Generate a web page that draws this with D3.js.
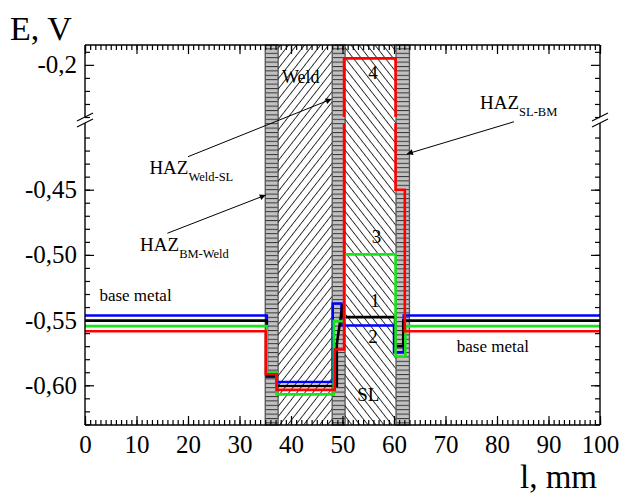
<!DOCTYPE html>
<html>
<head>
<meta charset="utf-8">
<script src="https://cdn.jsdelivr.net/npm/d3@7/dist/d3.min.js"></script>
<style>
body { margin: 0; background: #fff; }
svg { display: block; font-family: 'Liberation Serif', 'Times New Roman', serif; }
</style>
</head>
<body>
<div id="chart"></div>
<script>
const width = 621;
const height = 499;
const plotLeft = 85, plotRight = 600, plotTop = 45, plotBottom = 425;

// zones along the joint, mm
const zoneNames = ['HAZ', 'Weld', 'HAZ', 'SL', 'HAZ'];
const zoneFrom = [35, 37.5, 48, 50.5, 60.4];
const zoneTo = [37.5, 48, 50.5, 60.4, 63];

// potential profiles [l mm, E V]
const curve1 = [[0, -0.5504], [35.3, -0.5504], [35.3, -0.5925], [37.2, -0.5925], [37.2, -0.6005],
    [48.9, -0.6005], [48.9, -0.5682], [50.0, -0.5387], [50.2, -0.5387], [50.2, -0.5477],
    [60.2, -0.5477], [60.2, -0.570], [61.8, -0.570], [61.8, -0.5504], [100, -0.5504]];
const curve2 = [[0, -0.5465], [35.3, -0.5465], [35.3, -0.5935], [37.2, -0.5935], [37.2, -0.5975],
    [48.1, -0.5975], [48.1, -0.5373], [49.8, -0.5373], [49.8, -0.5541], [60.0, -0.5541],
    [60.0, -0.5748], [61.9, -0.5748], [61.9, -0.5465], [100, -0.5465]];
const curve3 = [[0, -0.5546], [35.3, -0.5546], [35.3, -0.590], [37.2, -0.590], [37.2, -0.607],
    [48.3, -0.607], [48.3, -0.5508], [50.4, -0.5508], [50.4, -0.4996], [60.3, -0.4996],
    [60.3, -0.5779], [62.2, -0.5779], [62.2, -0.5546], [100, -0.5546]];
const curve4 = [[0, -0.5586], [35.1, -0.5586], [35.1, -0.5915], [37.2, -0.5915], [37.2, -0.6035],
    [48.5, -0.6035], [48.5, -0.5725], [50.3, -0.5725], [50.3, -0.195], [60.3, -0.195],
    [60.3, -0.45], [62.1, -0.45], [62.1, -0.5586], [100, -0.5586]];

const xMajor = d3.range(0, 101, 10);
const xMinor = d3.range(0, 101, 1);
const yLowMajor = [-0.60, -0.55, -0.50, -0.45];
const yLowMinor = d3.range(-63, -40).map(d => d / 100);
const yHighMajor = [-0.2];
const yHighMinor = [-0.24, -0.23, -0.22, -0.21, -0.19];

const curves = [
    { data: curve2, color: '#0000ff' },
    { data: curve1, color: '#000000' },
    { data: curve3, color: '#18e418' },
    { data: curve4, color: '#ff0000' }
];

const svg = d3.select('#chart').append('svg')
    .attr('width', width)
    .attr('height', height);

const x = d3.scaleLinear().domain([0, 100]).range([plotLeft, plotRight]);
const yLow = d3.scaleLinear().domain([-0.63, -0.40]).range([424.4, 124.5]);
const yHigh = d3.scaleLinear().domain([-0.24, -0.185]).range([117, 45.3]);
const Y = v => v > -0.32 ? yHigh(v) : yLow(v);

const defs = svg.append('defs');
function hatch (id, angle, gap) {
    const p = defs.append('pattern')
        .attr('id', id)
        .attr('patternUnits', 'userSpaceOnUse')
        .attr('width', 10)
        .attr('height', gap)
        .attr('patternTransform', `rotate(${angle})`);
    p.append('line')
        .attr('x1', 0).attr('x2', 10)
        .attr('y1', gap / 2).attr('y2', gap / 2)
        .attr('stroke', '#000')
        .attr('stroke-width', 0.8);
}
hatch('weld', -52, 6.3);
hatch('sl', 52, 6.3);

const brick = defs.append('pattern')
    .attr('id', 'haz')
    .attr('patternUnits', 'userSpaceOnUse')
    .attr('width', 20)
    .attr('height', 4.4);
brick.append('rect').attr('width', 20).attr('height', 4.4).attr('fill', '#c2c2c2');
brick.append('line').attr('x1', 0).attr('x2', 20).attr('y1', 0.5).attr('y2', 0.5)
    .attr('stroke', '#333').attr('stroke-width', 1);

defs.append('clipPath').attr('id', 'clipLow')
    .append('rect').attr('x', plotLeft).attr('y', 123)
    .attr('width', plotRight - plotLeft).attr('height', plotBottom - 123);
defs.append('clipPath').attr('id', 'clipHigh')
    .append('rect').attr('x', plotLeft).attr('y', plotTop)
    .attr('width', plotRight - plotLeft).attr('height', 117 - plotTop);

defs.append('marker')
    .attr('id', 'arrow')
    .attr('viewBox', '0 0 10 10')
    .attr('refX', 10).attr('refY', 5)
    .attr('markerWidth', 9).attr('markerHeight', 6)
    .attr('markerUnits', 'userSpaceOnUse')
    .attr('orient', 'auto')
    .append('path').attr('d', 'M0,0L10,5L0,10z').attr('fill', '#000');

// zones
const zones = zoneNames.map((n, i) => ({ name: n, from: zoneFrom[i], to: zoneTo[i] }));
svg.append('g').selectAll('rect')
    .data(zones)
    .join('rect')
    .attr('x', d => x(d.from))
    .attr('y', plotTop)
    .attr('width', d => x(d.to) - x(d.from))
    .attr('height', plotBottom - plotTop)
    .attr('fill', d => d.name === 'HAZ' ? 'url(#haz)' : d.name === 'Weld' ? 'url(#weld)' : 'url(#sl)')
    .attr('stroke', d => d.name === 'HAZ' ? '#555' : 'none')
    .attr('stroke-width', 1.3);

// curves, drawn in both halves of the broken axis
const lineLow = d3.line().x(d => x(d[0])).y(d => yLow(d[1]));
const lineHigh = d3.line().x(d => x(d[0])).y(d => yHigh(d[1]));
[['clipLow', lineLow], ['clipHigh', lineHigh]].forEach(([clip, gen]) => {
    svg.append('g')
        .attr('clip-path', `url(#${clip})`)
        .selectAll('path')
        .data(curves)
        .join('path')
        .attr('d', d => gen(d.data))
        .attr('fill', 'none')
        .attr('stroke', d => d.color)
        .attr('stroke-width', 2.6);
});

// axes
const fmtLow = d => d3.format('.2f')(d).replace('−', '-').replace('.', ',');
const fmtHigh = d => d3.format('.1f')(d).replace('−', '-').replace('.', ',');
function styleAxis (g) {
    g.select('.domain').remove();
    g.selectAll('line').attr('stroke', '#000').attr('stroke-width', 1.2);
    g.attr('font-family', 'Liberation Serif, serif').attr('font-size', 25);
    g.selectAll('text').attr('fill', '#000');
}
svg.append('g').attr('transform', `translate(0,${plotBottom})`)
    .call(d3.axisBottom(x).tickValues(xMinor).tickSize(-5).tickFormat('')).call(styleAxis);
svg.append('g').attr('transform', `translate(0,${plotBottom})`)
    .call(d3.axisBottom(x).tickValues(xMajor).tickSize(-9).tickPadding(10).tickFormat(d3.format('d'))).call(styleAxis);
svg.append('g').attr('transform', `translate(0,${plotTop})`)
    .call(d3.axisTop(x).tickValues(xMinor).tickSize(-5).tickFormat('')).call(styleAxis);
svg.append('g').attr('transform', `translate(0,${plotTop})`)
    .call(d3.axisTop(x).tickValues(xMajor).tickSize(-9).tickFormat('')).call(styleAxis);

[[yLow, yLowMajor, yLowMinor, fmtLow], [yHigh, yHighMajor, yHighMinor, fmtHigh]].forEach(([s, major, minor, f]) => {
    svg.append('g').attr('transform', `translate(${plotLeft},0)`)
        .call(d3.axisLeft(s).tickValues(minor).tickSize(-5).tickFormat('')).call(styleAxis);
    svg.append('g').attr('transform', `translate(${plotLeft},0)`)
        .call(d3.axisLeft(s).tickValues(major).tickSize(-9).tickPadding(8).tickFormat(f)).call(styleAxis);
    svg.append('g').attr('transform', `translate(${plotRight},0)`)
        .call(d3.axisRight(s).tickValues(minor).tickSize(-5).tickFormat('')).call(styleAxis);
    svg.append('g').attr('transform', `translate(${plotRight},0)`)
        .call(d3.axisRight(s).tickValues(major).tickSize(-9).tickFormat('')).call(styleAxis);
});

// frame with breaks
const frame = svg.append('g').attr('stroke', '#000').attr('stroke-width', 1.4).attr('fill', 'none');
frame.append('line').attr('x1', plotLeft).attr('x2', plotRight).attr('y1', plotTop).attr('y2', plotTop);
frame.append('line').attr('x1', plotLeft).attr('x2', plotRight).attr('y1', plotBottom).attr('y2', plotBottom);
[plotLeft, plotRight].forEach(ax => {
    frame.append('line').attr('x1', ax).attr('x2', ax).attr('y1', plotTop).attr('y2', 117);
    frame.append('line').attr('x1', ax).attr('x2', ax).attr('y1', 123).attr('y2', plotBottom);
    frame.append('line').attr('x1', ax - 8).attr('x2', ax + 8).attr('y1', 121).attr('y2', 113).attr('stroke-width', 1.1);
    frame.append('line').attr('x1', ax - 8).attr('x2', ax + 8).attr('y1', 127).attr('y2', 119).attr('stroke-width', 1.1);
});

// labels
const labels = [
    { t: '4', l: 55.9, e: -0.2109, anchor: 'middle', size: 19 },
    { t: '3', l: 56.6, e: -0.4909, anchor: 'middle', size: 19 },
    { t: '1', l: 56.3, e: -0.540, anchor: 'middle', size: 19 },
    { t: '2', l: 55.9, e: -0.5676, anchor: 'middle', size: 19 },
    { t: 'SL', l: 55.0, e: -0.6124, anchor: 'middle', size: 19 },
    { t: 'Weld', l: 38.25, e: -0.2139, anchor: 'start', size: 18 },
    { t: 'base metal', l: 2.8, e: -0.5351, anchor: 'start', size: 17 },
    { t: 'base metal', l: 72.2, e: -0.5745, anchor: 'start', size: 17 }
];
svg.append('g').selectAll('text')
    .data(labels)
    .join('text')
    .attr('x', d => x(d.l))
    .attr('y', d => Y(d.e))
    .attr('text-anchor', d => d.anchor)
    .attr('font-size', d => d.size)
    .text(d => d.t);

const haz = [
    { sub: 'SL-BM', l: 76.7, e: -0.2341, from: [83.3, -0.3979], to: [62.5, -0.4226] },
    { sub: 'Weld-SL', l: 12.5, e: -0.438, from: [20.0, -0.4247], to: [47.9, -0.2262] },
    { sub: 'BM-Weld', l: 10.7, e: -0.4968, from: [16.0, -0.4834], to: [35.1, -0.4541] }
];
const hz = svg.append('g').selectAll('g').data(haz).join('g');
const ht = hz.append('text')
    .attr('x', d => x(d.l))
    .attr('y', d => Y(d.e))
    .attr('font-size', 19);
ht.append('tspan').text('HAZ');
ht.append('tspan').attr('font-size', 12.5).attr('dy', 7).text(d => d.sub);
hz.append('line')
    .attr('x1', d => x(d.from[0])).attr('y1', d => Y(d.from[1]))
    .attr('x2', d => x(d.to[0])).attr('y2', d => Y(d.to[1]))
    .attr('stroke', '#000').attr('stroke-width', 1)
    .attr('marker-end', 'url(#arrow)');

svg.append('text').attr('x', 10).attr('y', 40).attr('font-size', 34).text('E, V');
svg.append('text').attr('x', 597).attr('y', 488).attr('text-anchor', 'end').attr('font-size', 33).text('l, mm');
</script>
</body>
</html>
